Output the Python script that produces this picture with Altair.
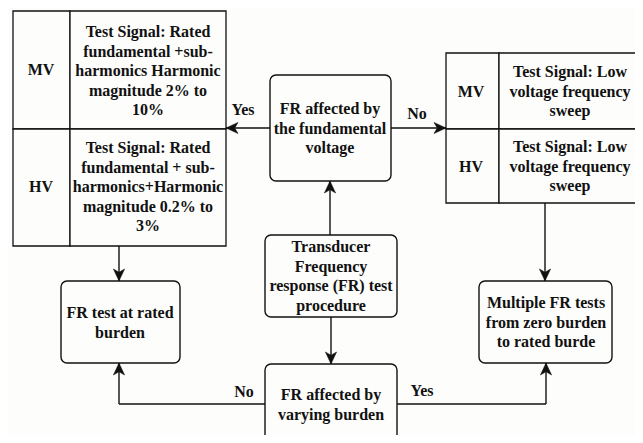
import altair as alt
import pandas as pd

# ---- diagram content (page-pixel coordinates) ----
# square table cells: x1, y1, x2, y2
cell_x1 = [13, 70, 13, 70, 446, 499, 446, 499]
cell_y1 = [11, 11, 129, 129, 53, 53, 129, 129]
cell_x2 = [70, 226, 70, 226, 499, 642, 499, 642]
cell_y2 = [129, 129, 246, 246, 129, 129, 203, 203]

# rounded process boxes
box_x1 = [270, 265, 61, 479, 265]
box_y1 = [75, 235, 281, 281, 364]
box_x2 = [391, 397, 180, 612, 397]
box_y2 = [181, 317, 363, 363, 470]

# connector segments
seg_x1 = [270, 391, 330, 119, 545, 331, 265, 119, 397, 546]
seg_y1 = [128, 128, 235, 246, 203, 317, 404, 404, 404, 404]
seg_x2 = [226, 446, 330, 119, 545, 331, 119, 119, 546, 546]
seg_y2 = [128, 128, 181, 281, 281, 364, 404, 363, 404, 363]

# arrow tips and direction (0 up, 90 right, 180 down, 270 left)
tip_x = [226, 446, 330, 119, 545, 331, 119, 546]
tip_y = [128, 128, 181, 281, 281, 364, 363, 363]
tip_angle = [270, 90, 0, 180, 180, 180, 0, 0]

# edge labels
lab_text = ["Yes", "No", "No", "Yes"]
lab_x = [243, 417, 244, 422]
lab_y = [110, 114, 392, 391]

# text blocks: (center x, first line y, lines)
blocks = [
    (41, 70, ["MV"]),
    (41, 187, ["HV"]),
    (148, 32, ["Test Signal: Rated", "fundamental +sub-", "harmonics Harmonic",
               "magnitude 2% to", "10%"]),
    (148, 148, ["Test Signal: Rated", "fundamental + sub-", "harmonics+Harmonic",
                "magnitude 0.2% to", "3%"]),
    (330, 109, ["FR affected by", "the fundamental", "voltage"]),
    (471, 92, ["MV"]),
    (471, 167, ["HV"]),
    (570, 72, ["Test Signal: Low", "voltage frequency", "sweep"]),
    (570, 147, ["Test Signal: Low", "voltage frequency", "sweep"]),
    (331, 247, ["Transducer", "Frequency", "response (FR) test", "procedure"]),
    (120, 313, ["FR test at rated", "burden"]),
    (546, 303, ["Multiple FR tests", "from zero burden", "to rated burde"]),
    (331, 395, ["FR affected by", "varying burden"]),
]
LINE_H = 19.5

# ---- build tables ----
cells = pd.DataFrame(dict(x=cell_x1, y=cell_y1, x2=cell_x2, y2=cell_y2))
boxes = pd.DataFrame(dict(x=box_x1, y=box_y1, x2=box_x2, y2=box_y2))
segs = pd.DataFrame(dict(x=seg_x1, y=seg_y1, x2=seg_x2, y2=seg_y2))
tips = pd.DataFrame(dict(x=tip_x, y=tip_y, a=tip_angle))
labs = pd.DataFrame(dict(x=lab_x, y=lab_y, t=lab_text))
rows = []
for cx, cy, lines in blocks:
    for i, s in enumerate(lines):
        rows.append(dict(x=cx, y=cy + i * LINE_H, t=s))
texts = pd.DataFrame(rows)

W, H = 627, 427
xs = alt.Scale(domain=[8, 8 + W], nice=False, zero=False)
ys = alt.Scale(domain=[8, 8 + H], nice=False, zero=False, reverse=True)
X = lambda f="x": alt.X(f"{f}:Q", scale=xs, axis=None)
Y = lambda f="y": alt.Y(f"{f}:Q", scale=ys, axis=None)

INK = "#111111"
FONT = "Liberation Serif"

cell_layer = alt.Chart(cells).mark_rect(
    fill="#fdfdfb", stroke=INK, strokeWidth=1.3
).encode(x=X(), x2="x2:Q", y=Y(), y2="y2:Q")

box_layer = alt.Chart(boxes).mark_rect(
    fill="#fdfdfb", stroke=INK, strokeWidth=1.4, cornerRadius=6
).encode(x=X(), x2="x2:Q", y=Y(), y2="y2:Q")

seg_layer = alt.Chart(segs).mark_rule(
    color=INK, strokeWidth=1.4
).encode(x=X(), x2="x2:Q", y=Y(), y2="y2:Q")

arrow_path = "M0,0 L0.7,1.5 L0,1.1 L-0.7,1.5 Z"
tip_layer = alt.Chart(tips).mark_point(
    shape=arrow_path, filled=True, fill=INK, stroke=INK, strokeWidth=0.5,
    size=256, opacity=1
).encode(x=X(), y=Y(), angle=alt.Angle("a:Q", scale=None))

lab_layer = alt.Chart(labs).mark_text(
    font=FONT, fontSize=16, fontWeight="bold", color=INK, baseline="middle"
).encode(x=X(), y=Y(), text="t:N")

text_layer = alt.Chart(texts).mark_text(
    font=FONT, fontSize=16, fontWeight="bold", color=INK, baseline="middle",
    align="center"
).encode(x=X(), y=Y(), text="t:N")

chart = alt.layer(
    cell_layer, box_layer, seg_layer, tip_layer, lab_layer, text_layer
).properties(
    width=W, height=H, autosize=alt.AutoSizeParams(type="none"), padding=0,
    background="#fdfdfb"
).configure_view(stroke=None)

chart.save("out.html", embed_options={"renderer": "svg", "actions": False})
